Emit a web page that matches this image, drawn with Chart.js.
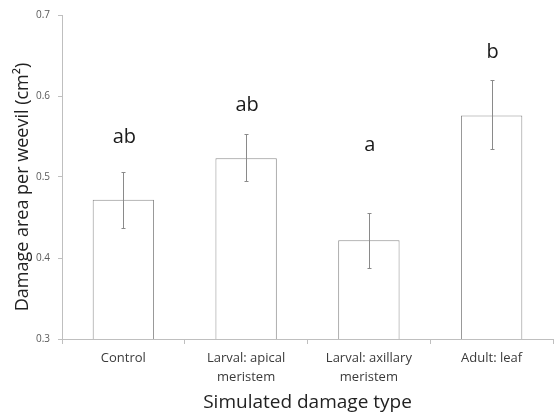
<!DOCTYPE html>
<html>
<head>
<meta charset="utf-8">
<script src="https://cdn.jsdelivr.net/npm/chart.js@4/dist/chart.umd.min.js"></script>
<style>
  html, body { margin: 0; padding: 0; background: #fff; }
  #wrap { width: 555px; height: 414px; }
</style>
</head>
<body>
<div id="wrap"><canvas id="chart"></canvas></div>
<script>
const categories = ['Control', ['Larval: apical', 'meristem'], ['Larval: axillary', 'meristem'], 'Adult: leaf'];
const meanArea = [0.472, 0.523, 0.422, 0.576];
const errLow = [0.437, 0.495, 0.388, 0.534];
const errHigh = [0.506, 0.553, 0.456, 0.620];
const groupLetters = ['ab', 'ab', 'a', 'b'];
const letterAt = [0.542, 0.5815, 0.532, 0.6475];
const yTitle = 'Damage area per weevil (cm²)';

// error bars, significance letters, y title (sits a bit low in the original)
const extras = {
    id: 'extras',
    afterDatasetsDraw(chart) {
        const ctx = chart.ctx;
        const x = chart.scales.x;
        const y = chart.scales.y;
        ctx.save();
        ctx.strokeStyle = '#8a8a8a';
        ctx.lineWidth = 1;
        meanArea.forEach((v, i) => {
            const cx = Math.round(x.getPixelForValue(i)) + 0.5;
            const top = Math.round(y.getPixelForValue(errHigh[i])) + 0.5;
            const bot = Math.round(y.getPixelForValue(errLow[i])) + 0.5;
            ctx.beginPath();
            ctx.moveTo(cx, top);
            ctx.lineTo(cx, bot);
            ctx.moveTo(cx - 2, top);
            ctx.lineTo(cx + 2, top);
            ctx.moveTo(cx - 2, bot);
            ctx.lineTo(cx + 2, bot);
            ctx.stroke();
        });
        ctx.fillStyle = '#1a1a1a';
        ctx.font = '20px "Open Sans", sans-serif';
        ctx.textAlign = 'center';
        ctx.textBaseline = 'alphabetic';
        groupLetters.forEach((t, i) => {
            ctx.fillText(t, x.getPixelForValue(i) + 1, y.getPixelForValue(letterAt[i]));
        });

        ctx.translate(23, y.getPixelForValue(0.5) + 10);
        ctx.rotate(-Math.PI / 2);
        ctx.fillStyle = '#222';
        ctx.font = '18px "Open Sans", sans-serif';
        ctx.textBaseline = 'middle';
        ctx.fillText(yTitle, 0, 0);
        ctx.restore();
    }
};

new Chart(document.getElementById('chart'), {
    type: 'bar',
    data: {
        labels: categories,
        datasets: [{
            data: meanArea,
            backgroundColor: '#ffffff',
            borderColor: '#8c8c8c',
            borderWidth: 1,
            barPercentage: 0.5,
            categoryPercentage: 1
        }]
    },
    options: {
        responsive: true,
        maintainAspectRatio: false,
        animation: false,
        layout: { padding: { top: 15, right: 2, left: 0, bottom: 0 } },
        plugins: {
            legend: { display: false },
            tooltip: { enabled: false }
        },
        scales: {
            x: {
                grid: { display: true, offset: true, drawOnChartArea: false, drawTicks: true, tickLength: 5, color: '#bfbfbf' },
                border: { color: '#bfbfbf' },
                ticks: { color: '#3a3a3a', font: { family: '"Open Sans", sans-serif', size: 13, lineHeight: 1.45 }, maxRotation: 0, padding: 5 },
                title: { display: true, text: 'Simulated damage type', color: '#222', font: { family: '"Open Sans", sans-serif', size: 19 }, padding: { top: 0, bottom: 0 } },
                afterFit(scale) { scale.height = 75; }
            },
            y: {
                min: 0.3,
                max: 0.7,
                grid: { display: true, drawOnChartArea: false, drawTicks: true, tickLength: 4, color: '#bfbfbf' },
                border: { color: '#bfbfbf' },
                ticks: {
                    stepSize: 0.1,
                    color: '#595959',
                    font: { family: '"Open Sans", sans-serif', size: 10 },
                    padding: 8,
                    callback: v => v.toFixed(1)
                },
                title: { display: false },
                afterFit(scale) { scale.width = 62; }
            }
        }
    },
    plugins: [extras]
});
</script>
</body>
</html>
